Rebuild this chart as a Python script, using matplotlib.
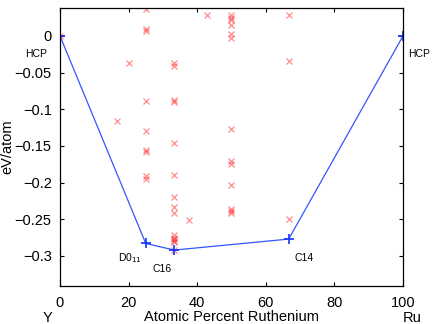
"""Formation energy convex hull for the Y-Ru system."""

import matplotlib

matplotlib.use("Agg")
import matplotlib.pyplot as plt

plt.rcParams["font.family"] = ["Liberation Sans", "DejaVu Sans"]

# computed structures (atomic percent Ru, eV/atom)
struct_x = [0, 16.7, 20, 25, 25, 25, 25, 25, 25, 25, 25, 25,
            33.3, 33.3, 33.3, 33.3, 33.3, 33.3, 33.3, 33.3, 33.3, 33.3, 33.3,
            33.3, 33.3, 33.3, 33.3, 37.5, 42.9,
            50, 50, 50, 50, 50, 50, 50, 50, 50, 50, 50, 50, 50,
            66.7, 66.7, 66.7]
struct_e = [0.0, -0.116, -0.037, 0.037, 0.010, 0.007, -0.089, -0.130,
            -0.156, -0.158, -0.191, -0.195,
            -0.037, -0.041, -0.088, -0.090, -0.146, -0.190, -0.219, -0.233,
            -0.242, -0.272, -0.275, -0.277, -0.279, -0.281, -0.292,
            -0.251, 0.028,
            0.028, 0.025, 0.022, 0.015, 0.003, -0.003, -0.127, -0.170, -0.175,
            -0.203, -0.236, -0.239, -0.242,
            0.028, -0.034, -0.250]

# ground-state hull
hull_x = [0, 25, 33.33, 66.67, 100]
hull_e = [0.0, -0.283, -0.292, -0.277, 0.0]

fig = plt.figure(figsize=(4.36, 3.24), dpi=100)
ax = fig.add_axes([0.1376, 0.1173, 0.7867, 0.8577])

ax.plot(struct_x, struct_e, "x", color="red", alpha=0.45, markersize=5,
        markeredgewidth=0.9)
ax.plot(hull_x, hull_e, "-", color="#3355ff", linewidth=0.9)
ax.plot(hull_x, hull_e, "+", color="#1133ff", markersize=7,
        markeredgewidth=1.2)

ax.set_xlim(0, 100)
ax.set_ylim(-0.341, 0.038)
ax.set_xticks([0, 20, 40, 60, 80, 100])
ax.set_yticks([-0.3, -0.25, -0.2, -0.15, -0.1, -0.05, 0])
ax.set_yticklabels(["\u22120.3", "\u22120.25", "\u22120.2", "\u22120.15",
                    "\u22120.1", "\u22120.05", "0"])
ax.tick_params(direction="in", top=True, right=True, labelsize=10.5,
               length=3, width=0.8, pad=6)
ax.tick_params(axis="x", pad=7)
for s in ax.spines.values():
    s.set_linewidth(0.9)

ax.set_ylabel("eV/atom", fontsize=10.5, labelpad=0)
ax.set_xlabel("Atomic Percent Ruthenium", fontsize=10.5, labelpad=0)
ax.text(-3.5, -0.384, "Y", fontsize=10.5, ha="center", va="center",
        clip_on=False)
ax.text(102.6, -0.384, "Ru", fontsize=10.5, ha="center", va="center",
        clip_on=False)

ax.text(-3.8, -0.024, "HCP", fontsize=7.5, ha="right", va="center",
        clip_on=False)
ax.text(101.5, -0.025, "HCP", fontsize=7.5, ha="left", va="center",
        clip_on=False)
ax.text(17, -0.303, "D0$_{11}$", fontsize=7.5, ha="left", va="center")
ax.text(27, -0.318, "C16", fontsize=7.5, ha="left", va="center")
ax.text(68.5, -0.303, "C14", fontsize=7.5, ha="left", va="center")

fig.savefig("out.png", dpi=100)
